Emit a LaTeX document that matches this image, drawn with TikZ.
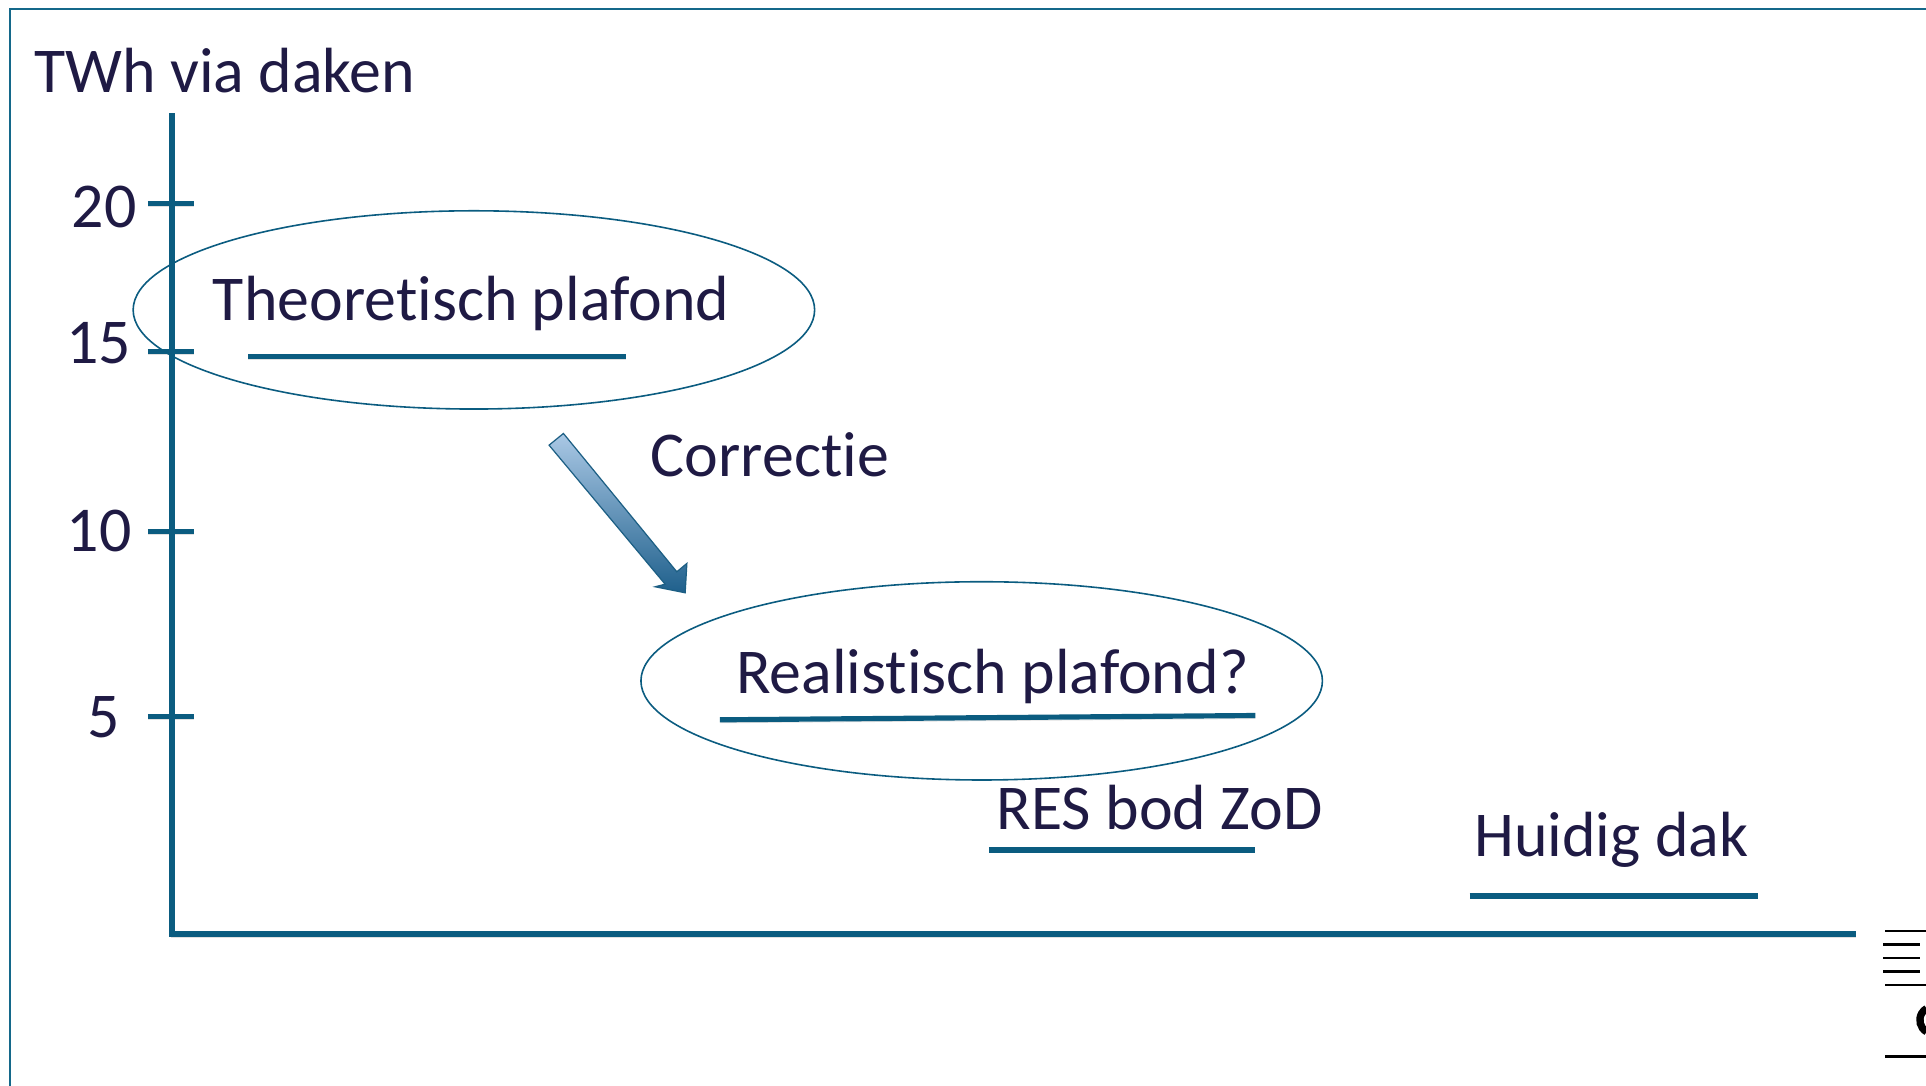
\documentclass[tikz,border=0pt]{standalone}
\usepackage{fontspec}
\setmainfont{Carlito}[Ligatures={NoCommon,NoContextual}]
\usetikzlibrary{positioning,shapes.geometric}

\definecolor{tealline}{HTML}{0B5C80}
\definecolor{frameteal}{HTML}{14688A}
\definecolor{textnavy}{HTML}{1F1A44}
\definecolor{arrowlight}{HTML}{AAC8E5}
\definecolor{arrowdark}{HTML}{1F608C}
\definecolor{arrowedge}{HTML}{1D5F84}
% keep t and i apart (no ligature)
\newcommand{\nolig}{\kern0pt\relax}

\begin{document}
\begin{tikzpicture}[x=0.5pt, y=-0.5pt,
    shadowed/.style = {preaction={draw=black!12, transform canvas={yshift=-1.2pt}}},
    axisline/.style = {draw=tealline, line width=2.3pt, shadowed},
    tickline/.style = {draw=tealline, line width=2.1pt, shadowed},
    uline/.style = {draw=tealline, line width=2.1pt, shadowed},
    ring/.style = {ellipse, draw=tealline, line width=0.65pt,
      minimum width=277.4pt, minimum height=80.7pt, inner sep=0pt},
    lbl/.style = {text=textnavy, font=\fontsize{26}{31}\selectfont,
      inner sep=0pt, anchor=base west}]
  \useasboundingbox (0,0) rectangle (1568,884);

  % slide frame
  \coordinate (fbl) at (8,884);
  \coordinate (ftl) at (8,7.6);
  \coordinate (ftr) at (1568,7.6);
  \draw[frameteal, line width=0.7pt] (fbl) -- (ftl) -- (ftr);

  % axes
  \coordinate (o) at (140,760.5);
  \coordinate (ytop) at (140,92);
  \coordinate (xend) at (1511,760.5);
  \node[lbl] (unit) at (27.5,75) {TWh via daken};

  \foreach \v/\ty/\lx/\by in {20/166/58/185, 15/286.5/53.5/296,
                             10/433/54/448.7, 5/583/70.5/600.7} {
    \coordinate (tk\v) at (140,\ty);
    \draw[tickline] ([xshift=-9.8pt]tk\v) -- ([xshift=9pt]tk\v);
    \node[lbl] (n\v) at (\lx,\by) {\v};
  }
  \draw[axisline] (ytop) -- (o) -- (xend);

  % plafonds
  \node[ring] (theoring) at (385.8,252.3) {};
  \node[ring] (realring) at (799.2,554.3) {};
  \node[lbl] (theo) at (173,261) {Theoret\nolig isch plafond};
  \node[lbl] (corr) at (529.5,388) {Correct\nolig ie};
  \node[lbl] (real) at (599,564.6) {Realist\nolig isch plafond?};
  \node[lbl] (res) at (811,675) {RES bod ZoD};
  \node[lbl] (huidig) at (1200,697.6) {Huidig dak};

  \draw[uline] (202,290.5) -- (509.5,290.5);
  \draw[uline] (586,586) -- (1022,582.5);
  \draw[uline] (805,692) -- (1022,692);
  \draw[uline] (1196.5,729.4) -- (1431,729.4);

  % block arrow
  \shadedraw[top color=arrowlight, bottom color=arrowdark,
      draw=arrowedge, line width=0.5pt]
    (458.7,352.9) -- (551,465.5) -- (559.2,458.7) -- (557.8,482.6)
    -- (533.4,477.7) -- (541.5,475.6) -- (447,362.4) -- cycle;

  % cut-off item at the right edge
  \foreach \yy/\xa/\xb in {758/1535/1568, 769/1533/1563, 780/1533/1563,
                           791/1533/1563, 802/1535/1568, 860/1535/1568}
    \draw[black, line width=1.1pt] (\xa,\yy) -- (\xb,\yy);
  \draw[black, line width=3pt] (1574,830.5) ++(120:11)
    arc[start angle=120, end angle=240, radius=11];
\end{tikzpicture}
\end{document}
